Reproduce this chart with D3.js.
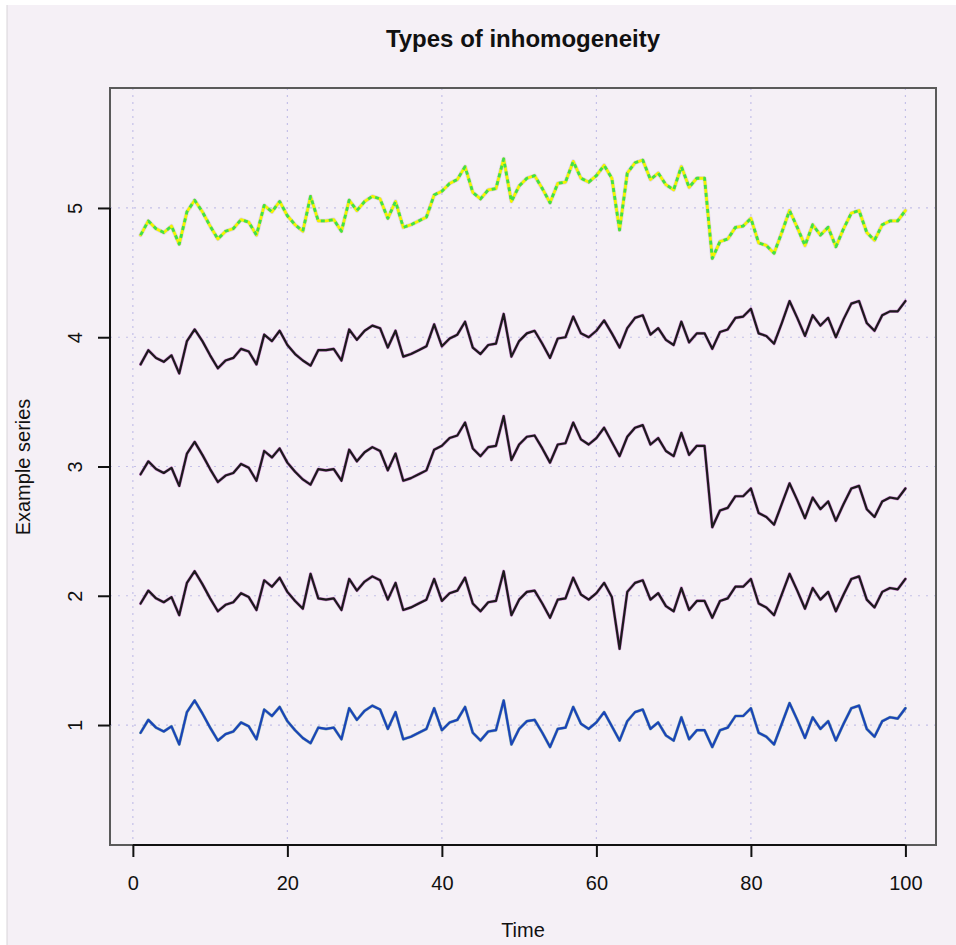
<!DOCTYPE html>
<html><head><meta charset="utf-8">
<script src="https://cdn.jsdelivr.net/npm/d3@7"></script>
<style>
body{margin:0;background:#fff}
svg{display:block}
text{font-family:"Liberation Sans",Arial,Helvetica,sans-serif;fill:#111}
</style>
</head><body>
<svg id="chart" width="956" height="945"></svg>
<script>
// ---------------- data ----------------
const time = d3.range(1, 101);
const xTicks = [0, 20, 40, 60, 80, 100];
const yTicks = [1, 2, 3, 4, 5];

// homogeneous series (around 1)
const seriesHomog = [0.94,1.04,0.98,0.95,0.99,0.85,1.10,1.19,1.09,0.98,0.88,0.93,0.95,1.02,0.99,0.89,1.12,1.07,1.14,1.03,
0.96,0.90,0.86,0.98,0.97,0.98,0.89,1.13,1.04,1.11,1.15,1.12,0.97,1.10,0.89,0.91,0.94,0.97,1.13,0.96,
1.02,1.04,1.14,0.94,0.88,0.95,0.96,1.19,0.85,0.97,1.03,1.04,0.94,0.83,0.97,0.98,1.14,1.01,0.97,1.02,
1.10,0.99,0.88,1.03,1.10,1.12,0.97,1.02,0.92,0.88,1.06,0.89,0.96,0.96,0.83,0.96,0.98,1.07,1.07,1.13,
0.94,0.91,0.85,1.01,1.17,1.04,0.90,1.06,0.97,1.03,0.88,1.01,1.13,1.15,0.97,0.91,1.03,1.06,1.05,1.13];

// series with outliers (around 2)
const seriesOutliers = [1.94,2.04,1.98,1.95,1.99,1.85,2.10,2.19,2.09,1.98,1.88,1.93,1.95,2.02,1.99,1.89,2.12,2.07,2.14,2.03,
1.96,1.90,2.17,1.98,1.97,1.98,1.89,2.13,2.04,2.11,2.15,2.12,1.97,2.10,1.89,1.91,1.94,1.97,2.13,1.96,
2.02,2.04,2.14,1.94,1.88,1.95,1.96,2.19,1.85,1.97,2.03,2.04,1.94,1.83,1.97,1.98,2.14,2.01,1.97,2.02,
2.10,1.99,1.59,2.03,2.10,2.12,1.97,2.02,1.92,1.88,2.06,1.89,1.96,1.96,1.83,1.96,1.98,2.07,2.07,2.13,
1.94,1.91,1.85,2.01,2.17,2.04,1.90,2.06,1.97,2.03,1.88,2.01,2.13,2.15,1.97,1.91,2.03,2.06,2.05,2.13];

// series with break points (around 3)
const seriesShift = [2.94,3.04,2.98,2.95,2.99,2.85,3.10,3.19,3.09,2.98,2.88,2.93,2.95,3.02,2.99,2.89,3.12,3.07,3.14,3.03,
2.96,2.90,2.86,2.98,2.97,2.98,2.89,3.13,3.04,3.11,3.15,3.12,2.97,3.10,2.89,2.91,2.94,2.97,3.13,3.16,
3.22,3.24,3.34,3.14,3.08,3.15,3.16,3.39,3.05,3.17,3.23,3.24,3.14,3.03,3.17,3.18,3.34,3.21,3.17,3.22,
3.30,3.19,3.08,3.23,3.30,3.32,3.17,3.22,3.12,3.08,3.26,3.09,3.16,3.16,2.53,2.66,2.68,2.77,2.77,2.83,
2.64,2.61,2.55,2.71,2.87,2.74,2.60,2.76,2.67,2.73,2.58,2.71,2.83,2.85,2.67,2.61,2.73,2.76,2.75,2.83];

// series with trend (around 4)
const seriesTrend = [3.79,3.90,3.84,3.81,3.86,3.72,3.97,4.06,3.97,3.86,3.76,3.82,3.84,3.91,3.89,3.79,4.02,3.97,4.05,3.94,
3.87,3.82,3.78,3.90,3.90,3.91,3.82,4.06,3.98,4.05,4.09,4.07,3.92,4.05,3.85,3.87,3.90,3.93,4.10,3.93,
3.99,4.02,4.12,3.92,3.87,3.94,3.95,4.18,3.85,3.97,4.03,4.05,3.95,3.84,3.99,4.00,4.16,4.03,4.00,4.05,
4.13,4.03,3.92,4.07,4.15,4.17,4.02,4.07,3.98,3.94,4.12,3.96,4.03,4.03,3.91,4.04,4.06,4.15,4.16,4.22,
4.03,4.01,3.95,4.11,4.28,4.15,4.01,4.17,4.09,4.15,4.00,4.14,4.26,4.28,4.11,4.05,4.17,4.20,4.20,4.28];

// combined inhomogeneities (around 5)
const seriesCombined = [4.79,4.90,4.84,4.81,4.86,4.72,4.97,5.06,4.97,4.86,4.76,4.82,4.84,4.91,4.89,4.79,5.02,4.97,5.05,4.94,
4.87,4.82,5.09,4.90,4.90,4.91,4.82,5.06,4.98,5.05,5.09,5.07,4.92,5.05,4.85,4.87,4.90,4.93,5.10,5.13,
5.19,5.22,5.32,5.12,5.07,5.14,5.15,5.38,5.05,5.17,5.23,5.25,5.15,5.04,5.19,5.20,5.36,5.23,5.20,5.25,
5.33,5.23,4.83,5.27,5.35,5.37,5.22,5.27,5.18,5.14,5.32,5.16,5.23,5.23,4.61,4.74,4.76,4.85,4.86,4.92,
4.73,4.71,4.65,4.81,4.98,4.85,4.71,4.87,4.79,4.85,4.70,4.84,4.96,4.98,4.81,4.75,4.87,4.90,4.90,4.98];

const titleText = "Types of inhomogeneity";
const xLabel = "Time";
const yLabel = "Example series";

// ---------------- layout ----------------
const W = 956, H = 945;
const plot = {left: 110, right: 936, top: 88, bottom: 845};

const svg = d3.select("#chart");
svg.append("rect").attr("x", 7).attr("y", 5).attr("width", W - 7).attr("height", H - 5)
  .attr("fill", "#f5f0f6");
svg.append("line").attr("x1", 7).attr("x2", 7).attr("y1", 5).attr("y2", H)
  .attr("stroke", "#d8d4d8").attr("stroke-width", 1);

const x = d3.scaleLinear().domain([-2.96, 103.96]).range([plot.left, plot.right]);
const y = d3.scaleLinear().domain([0.072, 5.928]).range([plot.bottom, plot.top]);

// grid
const grid = svg.append("g");
grid.selectAll("line.vg").data(xTicks).join("line").attr("class", "vg")
  .attr("x1", d => x(d)).attr("x2", d => x(d))
  .attr("y1", plot.top).attr("y2", plot.bottom)
  .attr("stroke", "#c4c0e8").attr("stroke-width", 1.2).attr("stroke-dasharray", "2,5");
grid.selectAll("line.hg").data(yTicks).join("line").attr("class", "hg")
  .attr("x1", plot.left).attr("x2", plot.right)
  .attr("y1", d => y(d)).attr("y2", d => y(d))
  .attr("stroke", "#c4c0e8").attr("stroke-width", 1.2).attr("stroke-dasharray", "2,6");

// lines
const line = d3.line().x((d, i) => x(time[i])).y(d => y(d));
const g = svg.append("g").attr("fill", "none").attr("stroke-linejoin", "round").attr("stroke-linecap", "round");

// series 1: blue
g.append("path").datum(seriesHomog).attr("d", line).attr("stroke", "#2a7a6a").attr("stroke-width", 3).attr("opacity", 0.5);
g.append("path").datum(seriesHomog).attr("d", line).attr("stroke", "#1a44b8").attr("stroke-width", 2.2);

// series 2-4: black with purple halo
[seriesOutliers, seriesShift, seriesTrend].forEach(s => {
  g.append("path").datum(s).attr("d", line).attr("stroke", "#b040b8").attr("stroke-width", 3.2).attr("opacity", 0.55);
  g.append("path").datum(s).attr("d", line).attr("stroke", "#1c1a1c").attr("stroke-width", 2.2);
});

// series 5: yellow / green dashed
g.append("path").datum(seriesCombined).attr("d", line).attr("stroke", "#c8c0e0").attr("stroke-width", 4.2).attr("opacity", 0.6);
g.append("path").datum(seriesCombined).attr("d", line).attr("stroke", "#f4f400").attr("stroke-width", 2.8);
g.append("path").datum(seriesCombined).attr("d", line).attr("stroke", "#3ee04a").attr("stroke-width", 2.8)
  .attr("stroke-dasharray", "4,4").attr("stroke-linecap", "butt");

// frame
svg.append("rect").attr("x", plot.left).attr("y", plot.top)
  .attr("width", plot.right - plot.left).attr("height", plot.bottom - plot.top)
  .attr("fill", "none").attr("stroke", "#5a5a5a").attr("stroke-width", 2);

// x axis
const xAxis = d3.axisBottom(x).tickValues(xTicks).tickSize(12).tickPadding(19).tickFormat(d3.format("d"));
const gx = svg.append("g").attr("transform", `translate(0,${plot.bottom})`).call(xAxis);
gx.select(".domain").remove();
gx.append("line").attr("x1", x(xTicks[0])).attr("x2", x(xTicks[xTicks.length - 1]))
  .attr("stroke", "#111").attr("stroke-width", 2);
gx.selectAll(".tick line").attr("stroke", "#111").attr("stroke-width", 2);
gx.selectAll(".tick text").attr("font-size", 20).attr("font-family", "Liberation Sans, Arial, sans-serif").attr("fill", "#111");

// y axis
const yAxis = d3.axisLeft(y).tickValues(yTicks).tickSize(12).tickFormat(d3.format("d"));
const gy = svg.append("g").attr("transform", `translate(${plot.left},0)`).call(yAxis);
gy.select(".domain").remove();
gy.append("line").attr("y1", y(yTicks[0])).attr("y2", y(yTicks[yTicks.length - 1]))
  .attr("stroke", "#111").attr("stroke-width", 2);
gy.selectAll(".tick line").attr("stroke", "#111").attr("stroke-width", 2);
gy.selectAll(".tick text")
  .attr("font-size", 20).attr("font-family", "Liberation Sans, Arial, sans-serif").attr("fill", "#111")
  .attr("x", 0).attr("y", -28).attr("dy", 0)
  .attr("text-anchor", "middle").attr("transform", "rotate(-90)");

// labels
svg.append("text").attr("x", (plot.left + plot.right) / 2).attr("y", 47)
  .attr("text-anchor", "middle").attr("font-size", 24).attr("font-weight", "bold").text(titleText);
svg.append("text").attr("x", (plot.left + plot.right) / 2).attr("y", 937)
  .attr("text-anchor", "middle").attr("font-size", 20).text(xLabel);
svg.append("text").attr("transform", "translate(30,467) rotate(-90)")
  .attr("text-anchor", "middle").attr("font-size", 20).text(yLabel);
</script>
</body></html>
